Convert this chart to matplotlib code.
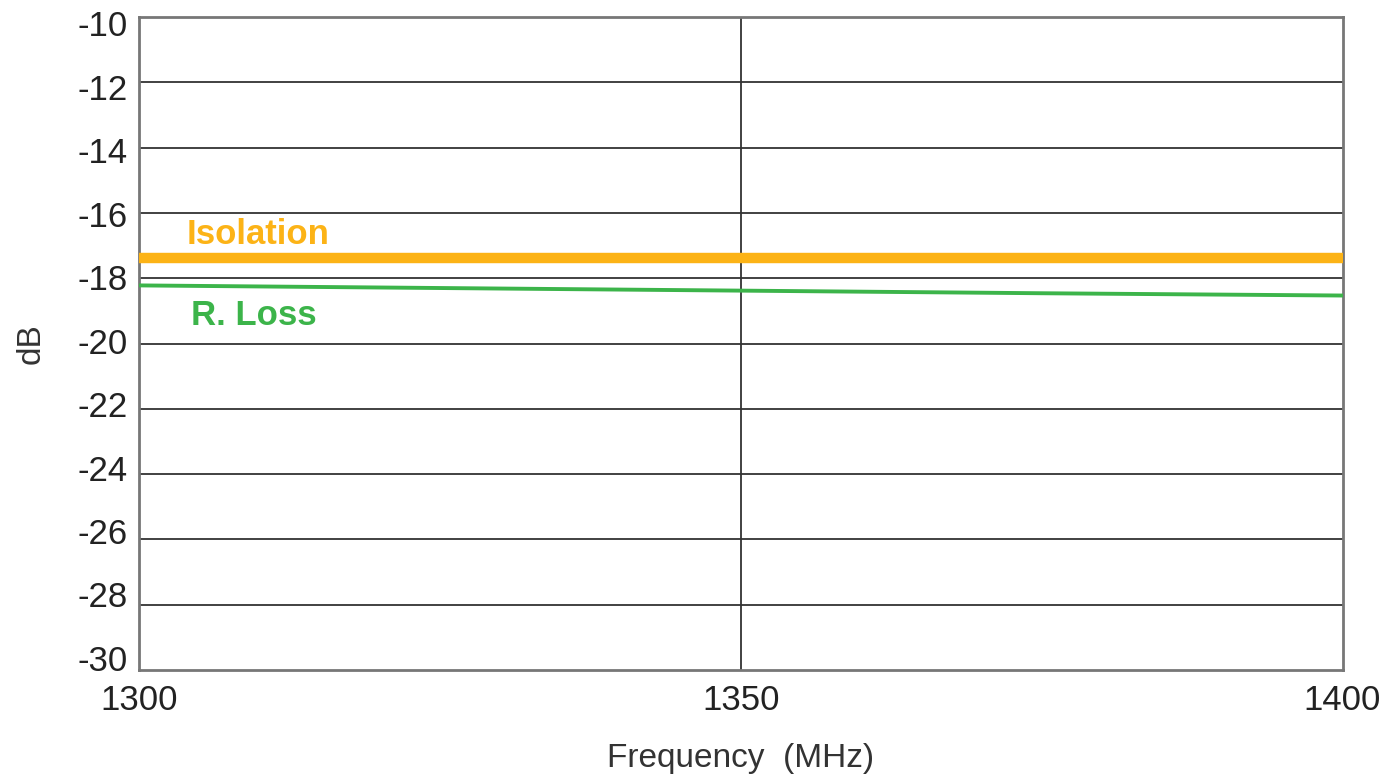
import matplotlib.pyplot as plt
from matplotlib.transforms import ScaledTranslation

plt.rcParams['font.family'] = ['Liberation Sans', 'DejaVu Sans']
plt.rcParams['axes.unicode_minus'] = False

freq = [1300, 1325, 1350, 1375, 1400]
isolation = [-17.38, -17.38, -17.38, -17.38, -17.38]
rloss = [-18.22, -18.30, -18.38, -18.46, -18.53]
yticks = [-10, -12, -14, -16, -18, -20, -22, -24, -26, -28, -30]
xticks = [1300, 1350, 1400]

fig = plt.figure(figsize=(13.95, 7.75), dpi=100)
ax = fig.add_axes([0.0996, 0.1355, 0.8628, 0.8425])

ax.plot(freq, isolation, color='#fcb316', lw=7.5, solid_capstyle='butt', zorder=3)
ax.plot(freq, rloss, color='#3cb44a', lw=2.8, zorder=3)

ax.set_xlim(1300, 1400)
ax.set_ylim(-30, -10)
ax.set_xticks(xticks)
ax.set_yticks(yticks)
ax.tick_params(length=0, labelsize=25, colors='#222222', pad=8)
ax.tick_params(axis='x', pad=10)

# the y labels in the original sit a little tighter than the grid
for i, lab in enumerate(ax.get_yticklabels()):
    dy = (-6 + 1.8 * i) / 100
    lab.set_transform(lab.get_transform() + ScaledTranslation(0, dy, fig.dpi_scale_trans))

for y in yticks[1:-1]:
    ax.axhline(y, color='#333333', lw=1.3, zorder=1)
ax.axvline(1350, color='#333333', lw=1.3, zorder=1)

for s in ax.spines.values():
    s.set_color('#777777')
    s.set_linewidth(2)

ax.text(1304, -16.65, 'Isolation', color='#fcb316', fontsize=25,
        fontweight='bold', va='center', ha='left')
ax.text(1304.3, -19.15, 'R. Loss', color='#3cb44a', fontsize=25,
        fontweight='bold', va='center', ha='left')

ax.set_xlabel('Frequency  (MHz)', fontsize=24, color='#333333', labelpad=19)
ax.set_ylabel('dB', fontsize=24, color='#333333', labelpad=22)

fig.savefig('out.png', dpi=100)
